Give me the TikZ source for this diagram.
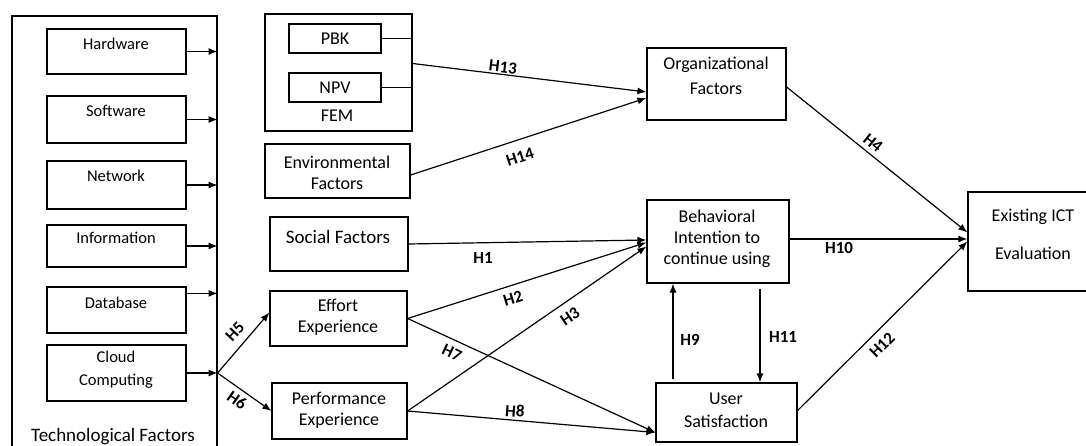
\documentclass[tikz,border=0pt]{standalone}
\usepackage{fontspec}
\setmainfont{Carlito}
\usetikzlibrary{arrows.meta,calc}
\begin{document}
\begin{tikzpicture}[x=1pt,y=-1pt,
  box/.style={draw, line width=1.2pt, inner sep=0pt},
  txt/.style={font=\fontsize{18}{21}\selectfont, align=center, inner sep=0pt},
  stxt/.style={font=\fontsize{16.5}{23}\selectfont, align=center, inner sep=0pt},
  btxt/.style={font=\fontsize{19}{22}\selectfont, align=center, inner sep=0pt},
  hl/.style={font=\bfseries\fontsize{17}{17}\selectfont, inner sep=0pt},
  arr/.style={line width=1.2pt, -{Latex[length=9pt,width=7pt]}},
  ln/.style={line width=1.2pt}]
\useasboundingbox (0,0) rectangle (1086,446);

% Technological factors
\node[box, minimum width=205pt, minimum height=454pt] (tf) at (114.5,243) {};
\node[box, minimum width=139pt, minimum height=45pt] (hw) at (116.5,51.5) {};
\node[box, minimum width=139pt, minimum height=47pt] (sw) at (116.5,119.5) {};
\node[box, minimum width=139pt, minimum height=48pt] (nw) at (116.5,185) {};
\node[box, minimum width=139pt, minimum height=42pt] (inf) at (116.5,246) {};
\node[box, minimum width=139pt, minimum height=46pt] (db) at (116.5,310) {};
\node[box, minimum width=139pt, minimum height=56pt] (cc) at (116.5,373) {};
\node[stxt] (thw) at (116,44) {Hardware};
\node[stxt] (tsw) at (116,111) {Software};
\node[stxt] (tnw) at (116,176) {Network};
\node[stxt] (tinf) at (116,238) {Information};
\node[stxt] (tdb) at (116,303) {Database};
\node[stxt] (tcc) at (116,370) {Cloud\\Computing};
\node[btxt] (ttf) at (113,437) {Technological Factors};

% FEM
\node[box, minimum width=147pt, minimum height=117pt] (fem) at (338.5,72.5) {};
\node[box, minimum width=92pt, minimum height=29pt] (pbk) at (335,38.5) {};
\node[box, minimum width=92pt, minimum height=29pt] (npv) at (335,87.5) {};
\node[txt] (tpbk) at (335,39) {PBK};
\node[txt] (tnpv) at (335,88) {NPV};
\node[txt] (tfem) at (337,116) {FEM};

% left column
\node[box, minimum width=145pt, minimum height=54pt] (env) at (337.5,171) {};
\node[txt] (tenv) at (337,172.5) {Environmental\\Factors};
\node[box, minimum width=138pt, minimum height=54pt] (soc) at (339,244) {};
\node[btxt] (tsoc) at (338,237) {Social Factors};
\node[box, minimum width=137pt, minimum height=55pt] (eff) at (338.5,318.5) {};
\node[txt] (teff) at (338,317.5) {Effort\\Experience};
\node[box, minimum width=135pt, minimum height=56pt] (perf) at (339.5,411) {};
\node[txt] (tperf) at (339,410) {Performance\\Experience};

% right part
\node[box, minimum width=139pt, minimum height=72pt] (org) at (716.5,84) {};
\node[txt, font=\fontsize{18}{25}\selectfont] (torg) at (716,75.5) {Organizational\\Factors};
\node[box, minimum width=142pt, minimum height=83pt] (beh) at (718,241.5) {};
\node[txt] (tbeh) at (717,238.5) {Behavioral\\Intention to\\continue using};
\node[box, minimum width=141pt, minimum height=59pt] (us) at (726.5,412.5) {};
\node[txt, font=\fontsize{18}{23}\selectfont] (tus) at (726,410.5) {User\\Satisfaction};
\node[box, minimum width=132pt, minimum height=99pt] (ex) at (1034,241.5) {};
\node[txt, font=\fontsize{18}{38}\selectfont] (tex) at (1033,234) {Existing ICT\\Evaluation};

% arrows in technological factors
\draw[arr] (hw.east) -- (hw.east -| tf.east);
\draw[arr] (sw.east) -- (sw.east -| tf.east);
\draw[arr] (nw.east) -- (nw.east -| tf.east);
\draw[arr] (inf.east) -- (inf.east -| tf.east);
\coordinate (dbp) at ($(db.north east)+(0,7)$);
\draw[arr] (dbp) -- (dbp -| tf.east);
\coordinate (br) at (cc.east -| tf.east);
\draw[arr] (cc.east) -- (br);
\draw[arr] (br) -- ($(eff.west)+(0,-6)$);
\draw[arr] (br) -- (perf.west);

% FEM lines
\draw[ln] (pbk.east) -- (pbk.east -| fem.east);
\draw[ln] (npv.east) -- (npv.east -| fem.east);

% hypotheses
\draw[arr] ($(fem.east)+(0,-9)$) -- ($(org.west)+(0,8)$);
\draw[arr] ($(env.east)+(0,4)$) -- ($(org.west)+(0,14)$);
\draw[arr] (soc.east) -- ($(beh.west)+(0,-1.5)$);
\draw[arr] (eff.east) -- ($(beh.west)+(0,1)$);
\draw[arr] (perf.east) -- ($(beh.west)+(0,5)$);
\draw[arr] (eff.east) -- ($(us.west)+(0,20)$);
\draw[arr] (perf.east) -- ($(us.west)+(0,20)$);
\draw[arr] ($(org.east)+(0,3)$) -- ($(ex.west)+(0,-9)$);
\draw[arr] ($(beh.east)+(0,-2.5)$) -- ($(ex.west)+(0,-2.5)$);
\draw[arr] ($(us.east)+(0,-2)$) -- (ex.west);
\coordinate (h9x) at (673,0);
\coordinate (h11x) at (760,0);
\draw[arr] ($(h9x |- us.north)+(0,-3)$) -- (h9x |- beh.south);
\draw[arr] ($(h11x |- beh.south)+(0,5)$) -- (h11x |- us.north);

% labels
\node[hl, rotate=-7] (l13) at (503,67) {H13};
\node[hl, rotate=18] (l14) at (520,157) {H14};
\node[hl] (l1) at (483,258) {H1};
\node[hl, rotate=17] (l2) at (513,298) {H2};
\node[hl, rotate=34] (l3) at (570,317) {H3};
\node[hl, rotate=-25] (l7) at (452,353) {H7};
\node[hl, rotate=-4] (l8) at (515,411) {H8};
\node[hl, rotate=-39] (l4) at (873,143) {H4};
\node[hl] (l10) at (839,248) {H10};
\node[hl, rotate=45] (l12) at (882,345) {H12};
\node[hl] (l9) at (690,340) {H9};
\node[hl] (l11) at (783,337) {H11};
\node[hl, rotate=47] (l5) at (235,332) {H5};
\node[hl, rotate=-35] (l6) at (237,400) {H6};
\end{tikzpicture}
\end{document}
